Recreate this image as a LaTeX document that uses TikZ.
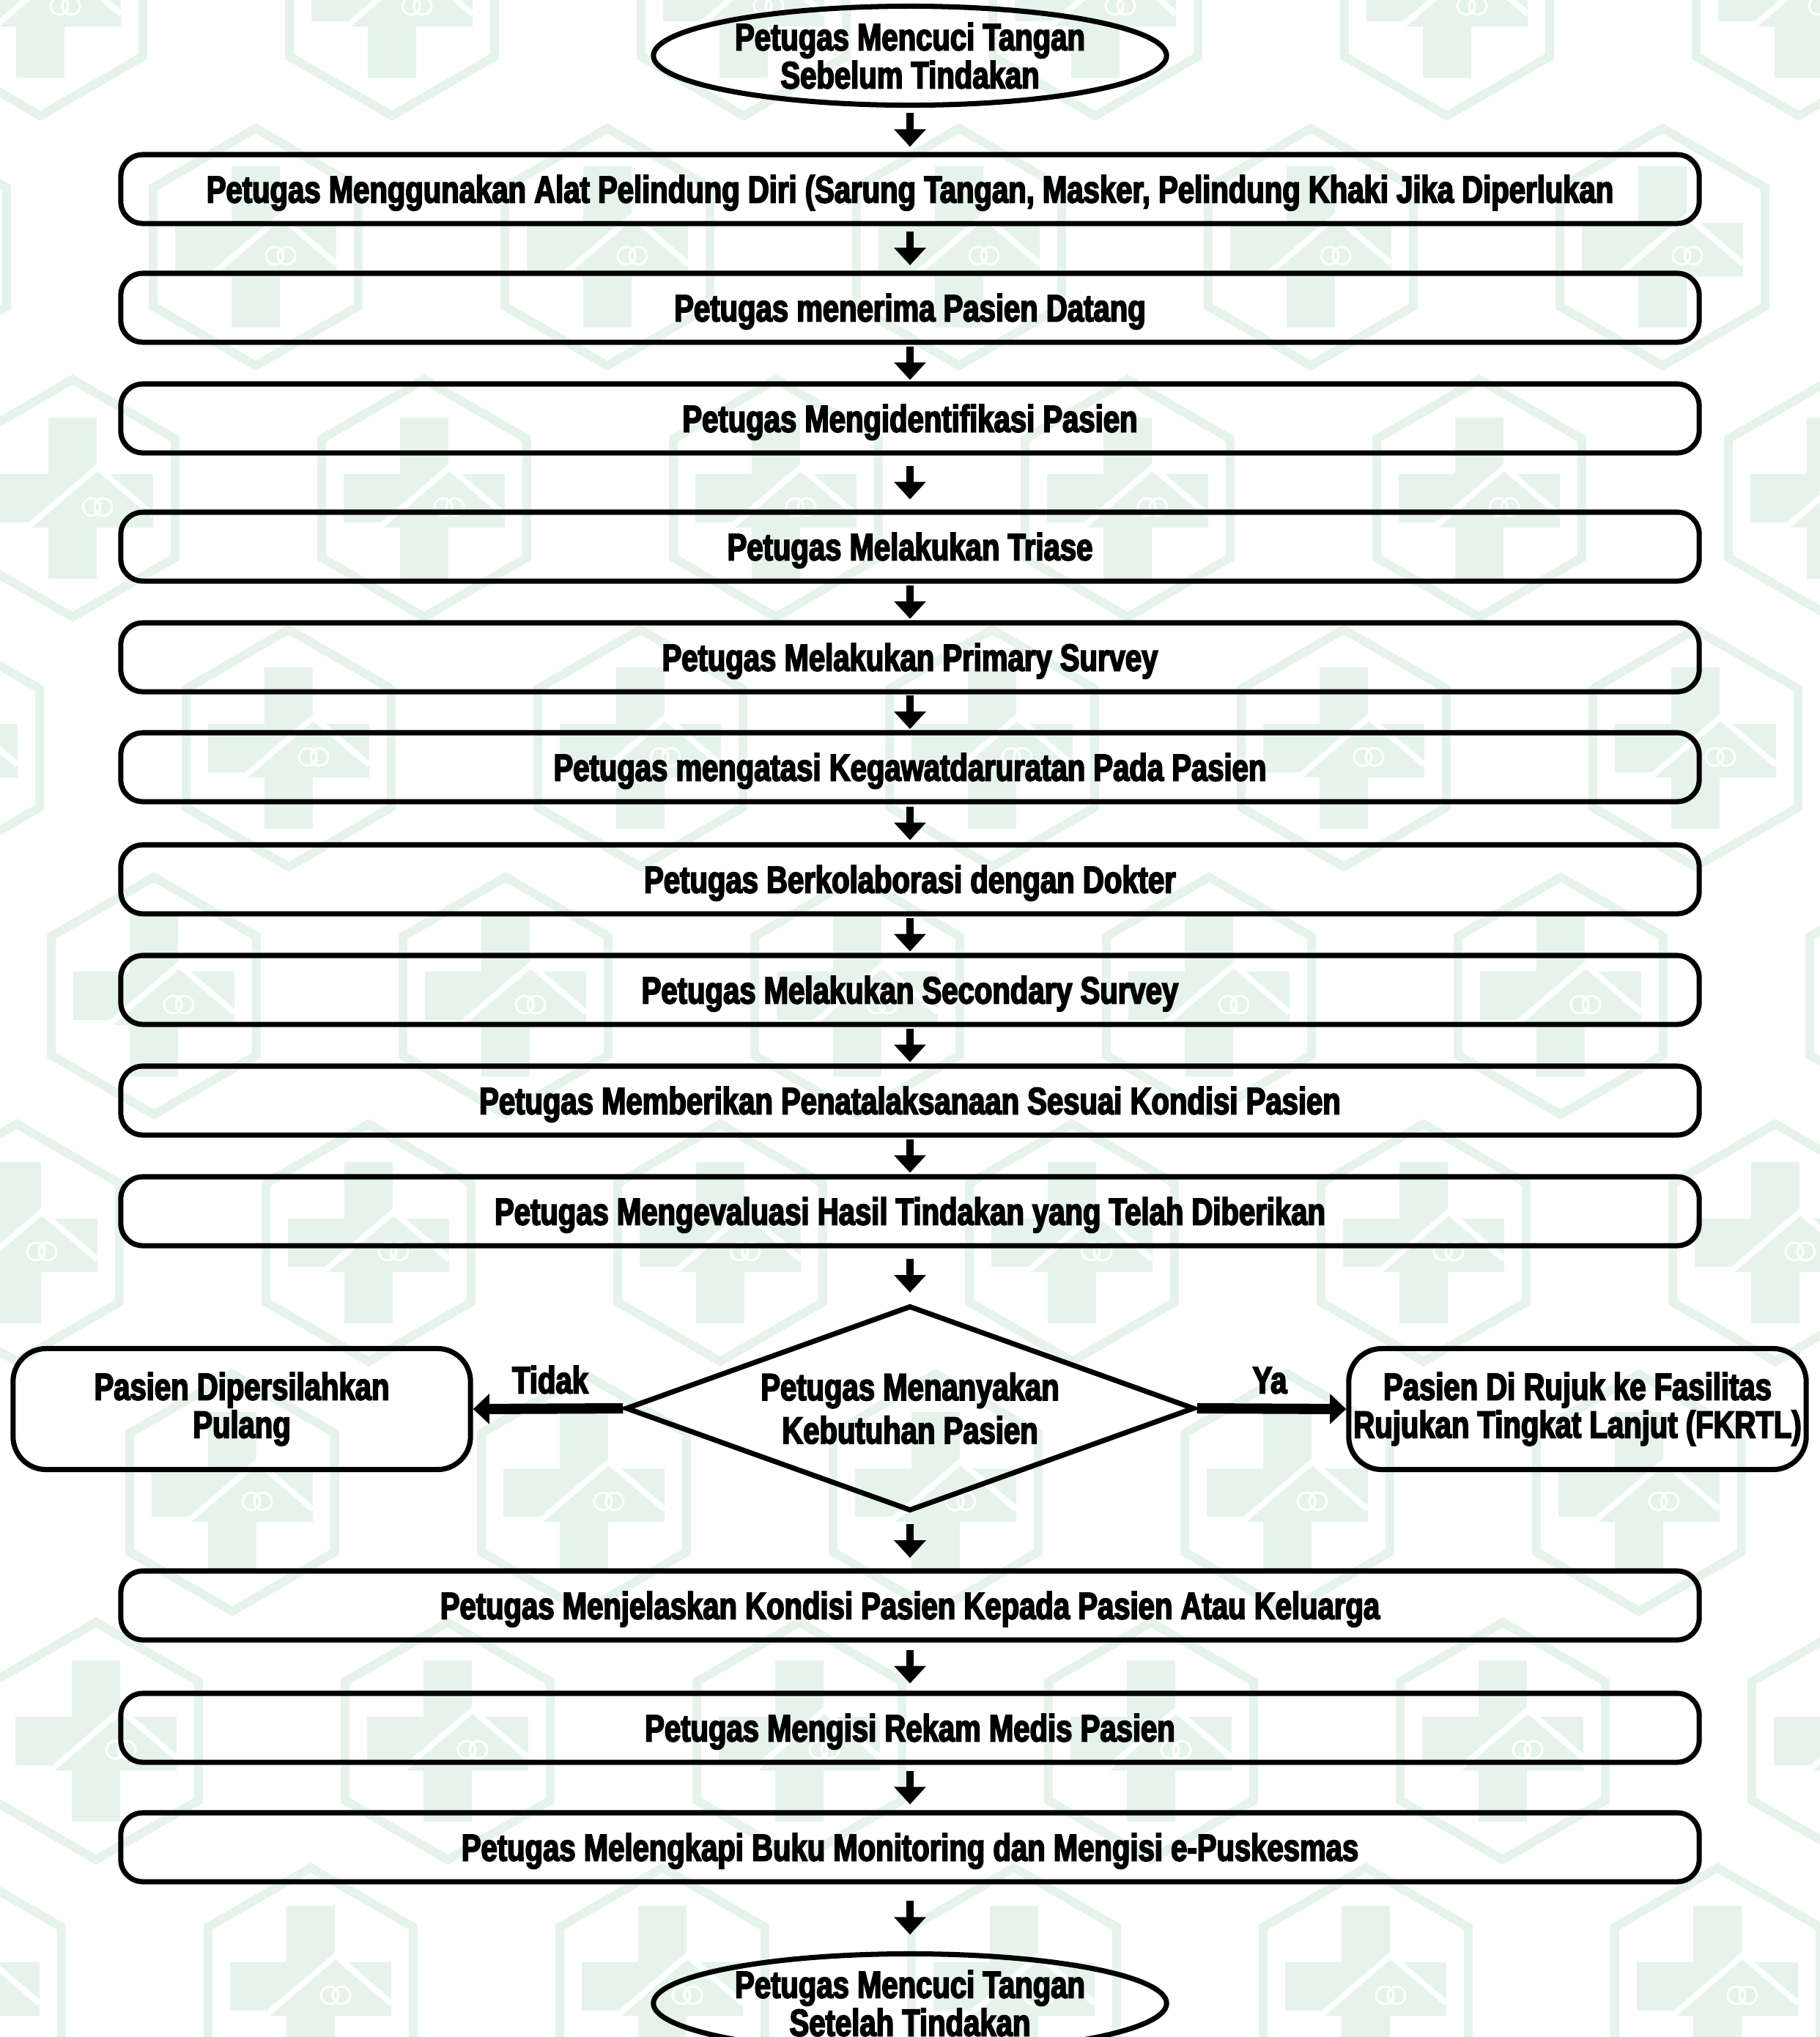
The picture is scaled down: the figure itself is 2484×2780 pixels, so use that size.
\documentclass[tikz,border=0pt]{standalone}
\usepackage{fontspec}
\newfontfamily\hfont{Liberation Sans Bold}[FakeStretch=0.775,FakeBold=3.5]
\usetikzlibrary{arrows.meta,shapes.geometric,calc}
\definecolor{wm}{RGB}{229,243,235}
\tikzset{
  wmlogo/.pic={
    \draw[wm, line width=3.4pt, line join=miter] (0,-162) -- (140,-81) -- (140,81) -- (0,162) -- (-140,81) -- (-140,-81) -- cycle;
    \fill[wm] (-33,-110) rectangle (33,110);
    \fill[wm] (-110,-33) rectangle (110,33);
    \fill[wm] (-62,40) -- (34,-42) -- (110,23) -- (110,40) -- cycle;
    \draw[white, line width=2.3pt] (-62,40) -- (34,-42) -- (110,23);
    \draw[white, line width=0.9pt] (26,12) circle (0.12cm) (42,12) circle (0.12cm);
  }
}
\begin{document}
\begin{tikzpicture}[x=0.01cm,y=-0.01cm,
  txt/.style={font=\hfont\fontsize{14.7}{13.4}\selectfont},
  pbox/.style={txt, draw, line width=2pt, rounded corners=0.3cm, minimum width=21.53cm, minimum height=0.94cm, inner sep=0pt, text height=10.5pt, text depth=0pt},
  poval/.style={txt, ellipse, draw, line width=2pt, minimum width=7.0cm, minimum height=1.35cm, inner sep=0pt, align=center},
  pside/.style={txt, draw, line width=2pt, rounded corners=0.45cm, minimum width=6.24cm, minimum height=1.65cm, inner sep=0pt, align=center},
  pdia/.style={font=\hfont\fontsize{14.7}{16.8}\selectfont, diamond, aspect=2.77, draw, line width=2pt, minimum width=7.76cm, minimum height=2.8cm, inner sep=0pt, align=center},
  plabel/.style={txt, inner sep=0pt, text height=10.5pt, text depth=0pt},
  varr/.style={line width=2.85pt, -{Triangle[length=6.8pt,width=12pt]}},
  harr/.style={line width=4pt, -{Triangle[length=6.3pt,width=11.4pt]}}
]
\useasboundingbox (0,0) rectangle (2484,2780);
\clip (0,0) rectangle (2484,2780);
\fill[white] (0,0) rectangle (2484,2780);
% watermark
\foreach \yy/\xx in {-4/55, 337/349, 680/99, 1021/394, 1359/210, 1696/23, 2037/317, 2376/131, 2711/424} {
  \foreach \k in {-1,...,5} {
    \pic at ({\xx+480*\k},\yy) {wmlogo};
  }
}
% nodes
\node[poval] (e1) at (1242,76) {Petugas Mencuci Tangan\\Sebelum Tindakan};
\node[pbox] (b1) at (1242,258) {Petugas Menggunakan Alat Pelindung Diri (Sarung Tangan, Masker, Pelindung Khaki Jika Diperlukan};
\node[pbox] (b2) at (1242,420) {Petugas menerima Pasien Datang};
\node[pbox] (b3) at (1242,571) {Petugas Mengidentifikasi Pasien};
\node[pbox] (b4) at (1242,746) {Petugas Melakukan Triase};
\node[pbox] (b5) at (1242,897) {Petugas Melakukan Primary Survey};
\node[pbox] (b6) at (1242,1047) {Petugas mengatasi Kegawatdaruratan Pada Pasien};
\node[pbox] (b7) at (1242,1200) {Petugas Berkolaborasi dengan Dokter};
\node[pbox] (b8) at (1242,1351) {Petugas Melakukan Secondary Survey};
\node[pbox] (b9) at (1242,1502) {Petugas Memberikan Penatalaksanaan Sesuai Kondisi Pasien};
\node[pbox] (b10) at (1242,1653) {Petugas Mengevaluasi Hasil Tindakan yang Telah Diberikan};
\node[pdia] (dq) at (1242,1922) {Petugas Menanyakan\\Kebutuhan Pasien};
\node[pside] (lb) at (330,1923) {Pasien Dipersilahkan\\Pulang};
\node[pside] (rb) at (2153,1923) {Pasien Di Rujuk ke Fasilitas\\Rujukan Tingkat Lanjut (FKRTL)};
\node[pbox] (b11) at (1242,2191) {Petugas Menjelaskan Kondisi Pasien Kepada Pasien Atau Keluarga};
\node[pbox] (b12) at (1242,2358) {Petugas Mengisi Rekam Medis Pasien};
\node[pbox] (b13) at (1242,2521) {Petugas Melengkapi Buku Monitoring dan Mengisi e-Puskesmas};
\node[poval] (e2) at (1242,2734) {Petugas Mencuci Tangan\\Setelah Tindakan};
\node[plabel] (lt) at (751,1883) {Tidak};
\node[plabel] (ly) at (1733,1883) {Ya};
% connectors
\foreach \a/\b in {e1/b1,b1/b2,b2/b3,b3/b4,b4/b5,b5/b6,b6/b7,b7/b8,b8/b9,b9/b10,b10/dq,dq/b11,b11/b12,b12/b13,b13/e2} {
  \draw[varr] ($(\a.south)!0.5!(\b.north)+(0,-23)$) -- ($(\a.south)!0.5!(\b.north)+(0,23)$);
}
\draw[harr] (dq.west) -- (lb.east);
\draw[harr] (dq.east) -- (rb.west);
\end{tikzpicture}
\end{document}
